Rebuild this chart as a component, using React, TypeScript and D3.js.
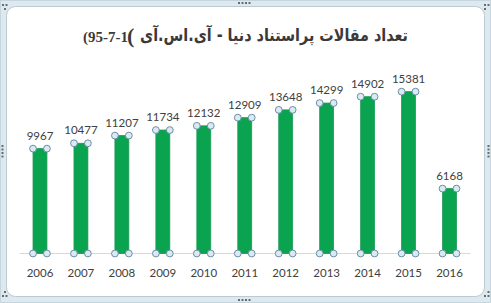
import React from "react";
import * as d3 from "d3";

const years = ["2006", "2007", "2008", "2009", "2010", "2011", "2012", "2013", "2014", "2015", "2016"];
const counts = [9967, 10477, 11207, 11734, 12132, 12909, 13648, 14299, 14902, 15381, 6168];
const titleFa = "تعداد مقالات پراستناد دنیا - آی.اس.آی";
const titleNum = "(95-7-1";
const titleParen = "(";

const W = 491;
const H = 303;

export default function App() {
  const x = d3.scaleBand<string>().domain(years).range([19.5, 470]).paddingInner(0.66).paddingOuter(0.33);
  const y = d3.scaleLinear().domain([0, 18000]).range([253.5, 64.1]);
  const bw = x.bandwidth();

  const dots = (cx: number, cy: number, horiz: boolean, n: number) =>
    d3.range(n).map((i) => (
      <rect
        key={i}
        x={horiz ? cx + i * 3.5 : cx}
        y={horiz ? cy : cy + i * 3.5}
        width={2}
        height={2}
        fill="#6b6b6b"
      />
    ));

  return (
    <svg width={W} height={H} style={{ position: "absolute", left: 0, top: 0 }}>
      <rect x={0} y={0} width={W} height={H} fill="#dde9ef" />
      <rect x={0.5} y={0.5} width={W - 1} height={H - 1} fill="none" stroke="#c5d6de" />
      <rect x={6.5} y={6.5} width={W - 13} height={H - 13} rx={9} fill="#ffffff" stroke="#b9cbd4" />
      {dots(238, 2, true, 4)}
      {dots(238, 299, true, 4)}
      {dots(1.5, 145, false, 4)}
      {dots(487.5, 145, false, 4)}
      {dots(2, 4, true, 2)}
      {dots(4, 8, true, 1)}
      {dots(484, 4, true, 2)}
      {dots(484, 8, true, 1)}
      {dots(2, 295, true, 2)}
      {dots(4, 291, true, 1)}
      {dots(484, 295, true, 2)}
      {dots(487.5, 291, true, 1)}

      <text
        x={408}
        y={41}
        direction="rtl"
        textAnchor="start"
        fontFamily="DejaVu Sans"
        fontWeight="bold"
        fontSize={17}
        fill="#3a3a3a"
        textLength={268}
        lengthAdjust="spacingAndGlyphs"
      >
        {titleFa}
      </text>
      <text x={83} y={42} direction="ltr" fontFamily="Liberation Serif" fontWeight="bold" fontSize={15} fill="#3a3a3a">
        {titleNum}
      </text>
      <text x={127} y={43} direction="ltr" fontFamily="Liberation Serif" fontWeight="bold" fontSize={22} fill="#3a3a3a">
        {titleParen}
      </text>

      <line x1={19.5} x2={470.5} y1={253.5} y2={253.5} stroke="#d9d9d9" />

      {years.map((yr, i) => {
        const x0 = x(yr)!;
        const top = y(counts[i]);
        const cx = x0 + bw / 2;
        return (
          <g key={yr}>
            <rect x={x0} y={top} width={bw} height={y(0) - top} fill="#0aa34f" stroke="#1e9a55" strokeWidth={0.8} />
            {[
              [x0, top],
              [x0 + bw, top],
              [x0, y(0)],
              [x0 + bw, y(0)],
            ].map(([hx, hy], j) => (
              <circle key={j} cx={hx} cy={hy} r={3.4} fill="#d8ebf2" stroke="#6e8ea3" strokeWidth={1} />
            ))}
            <text x={cx} y={top - 9} textAnchor="middle" fontFamily="Lato" fontSize={11.5} fill="#404040">
              {counts[i]}
            </text>
            <text x={cx} y={277} textAnchor="middle" fontFamily="Lato" fontSize={11.5} fill="#404040">
              {yr}
            </text>
          </g>
        );
      })}
    </svg>
  );
}
